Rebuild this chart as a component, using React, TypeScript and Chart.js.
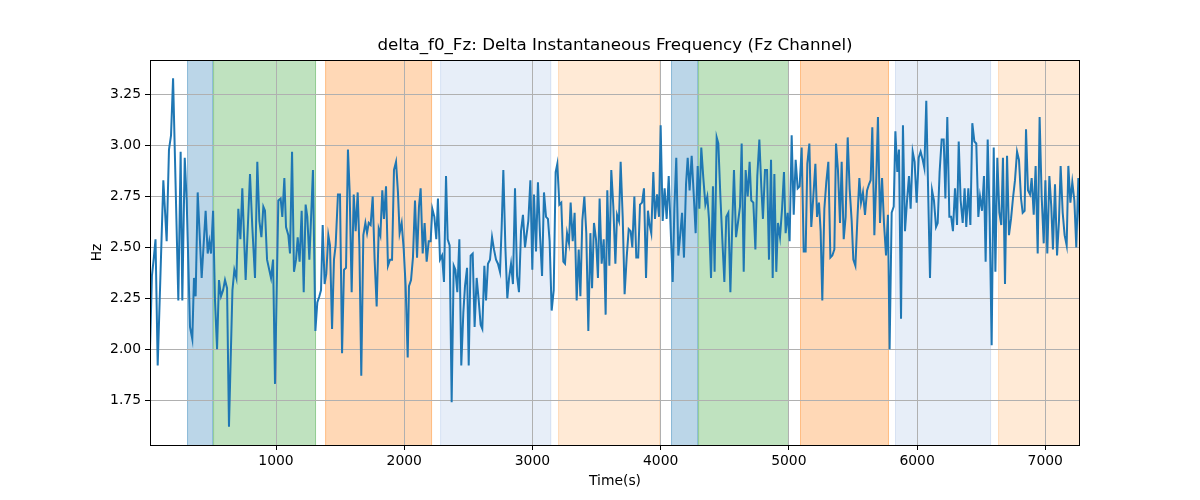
import React, { useEffect, useRef } from 'react';
import { Chart, registerables } from 'chart.js';

Chart.register(...registerables);

const titleText = 'delta_f0_Fz: Delta Instantaneous Frequency (Fz Channel)';

// time (s) of each sample
const times: number[] = [
  17, 32, 47, 60, 77, 121, 147, 165, 181, 197, 238, 256, 269, 288, 303, 329, 347, 360, 373, 389,
  420, 451, 467, 480, 493, 509, 524, 540, 555, 571, 587, 602, 618, 633, 660, 675, 691, 706, 722, 737,
  763, 797, 815, 836, 854, 870, 886, 901, 914, 930, 961, 977, 992, 1018, 1036, 1049, 1065, 1078, 1096, 1109,
  1125, 1140, 1156, 1169, 1184, 1200, 1216, 1231, 1244, 1260, 1275, 1288, 1307, 1322, 1338, 1351, 1364, 1379, 1392, 1408,
  1421, 1437, 1452, 1465, 1483, 1499, 1515, 1530, 1546, 1561, 1574, 1590, 1606, 1621, 1637, 1650, 1665, 1681, 1697, 1710,
  1723, 1738, 1754, 1769, 1785, 1801, 1814, 1829, 1842, 1858, 1873, 1889, 1905, 1920, 1936, 1951, 1964, 1980, 1996, 2011,
  2027, 2037, 2053, 2068, 2084, 2100, 2115, 2128, 2144, 2159, 2175, 2191, 2206, 2219, 2235, 2250, 2263, 2279, 2295, 2310,
  2326, 2339, 2354, 2370, 2386, 2399, 2414, 2430, 2445, 2461, 2474, 2490, 2503, 2518, 2534, 2549, 2565, 2581, 2596, 2609,
  2625, 2638, 2653, 2669, 2685, 2700, 2716, 2731, 2747, 2760, 2773, 2789, 2804, 2818, 2833, 2848, 2864, 2880, 2895, 2911,
  2926, 2942, 2968, 2984, 2999, 3012, 3028, 3043, 3059, 3075, 3090, 3106, 3121, 3134, 3150, 3166, 3181, 3194, 3210, 3225,
  3241, 3254, 3270, 3285, 3298, 3314, 3329, 3345, 3361, 3374, 3389, 3405, 3420, 3436, 3452, 3465, 3480, 3496, 3511, 3524,
  3540, 3556, 3571, 3584, 3600, 3615, 3631, 3647, 3660, 3675, 3688, 3704, 3719, 3735, 3751, 3766, 3779, 3795, 3810, 3825,
  3839, 3855, 3870, 3886, 3901, 3914, 3927, 3943, 3956, 3972, 3987, 4000, 4016, 4031, 4047, 4063, 4078, 4094, 4107, 4122,
  4138, 4154, 4167, 4182, 4198, 4211, 4226, 4242, 4258, 4273, 4289, 4302, 4317, 4333, 4349, 4364, 4377, 4393, 4408, 4421,
  4437, 4450, 4466, 4481, 4497, 4512, 4528, 4544, 4557, 4572, 4588, 4603, 4619, 4632, 4648, 4663, 4679, 4694, 4707, 4723,
  4739, 4754, 4770, 4785, 4798, 4814, 4830, 4845, 4861, 4874, 4887, 4902, 4915, 4931, 4947, 4962, 4975, 4991, 5006, 5022,
  5038, 5053, 5069, 5084, 5100, 5116, 5131, 5144, 5160, 5175, 5191, 5207, 5220, 5235, 5248, 5261, 5277, 5292, 5308, 5324,
  5339, 5355, 5368, 5383, 5399, 5412, 5428, 5443, 5459, 5474, 5490, 5503, 5519, 5534, 5550, 5563, 5578, 5594, 5610, 5625,
  5638, 5651, 5667, 5682, 5695, 5711, 5727, 5742, 5758, 5773, 5786, 5802, 5818, 5831, 5846, 5859, 5875, 5890, 5906, 5922,
  5937, 5950, 5966, 5981, 5997, 6013, 6028, 6044, 6057, 6072, 6088, 6101, 6117, 6132, 6148, 6161, 6176, 6192, 6208, 6221,
  6236, 6252, 6266, 6280, 6296, 6312, 6325, 6340, 6356, 6371, 6384, 6400, 6416, 6431, 6447, 6462, 6478, 6491, 6507, 6522,
  6535, 6551, 6566, 6582, 6598, 6611, 6626, 6642, 6657, 6670, 6686, 6702, 6717, 6733, 6748, 6764, 6780, 6795, 6811, 6824,
  6839, 6850, 6865, 6881, 6894, 6910, 6925, 6941, 6956, 6972, 6988, 7001, 7016, 7032, 7047, 7060, 7076, 7092, 7107, 7120,
  7136, 7151, 7167, 7180, 7196, 7211, 7227, 7242, 7258, 7271,
];

// delta f0 (Hz) at each sample
const deltaF0: number[] = [
  2.0, 2.36, 2.45, 2.54, 1.92, 2.83, 2.53, 2.98, 3.05, 3.33, 2.24, 2.97, 2.24, 2.94, 2.73, 2.11, 2.05, 2.35, 2.26, 2.77,
  2.35, 2.68, 2.47, 2.53, 2.47, 2.68, 2.24, 2.0, 2.34, 2.26, 2.29, 2.34, 2.3, 1.62, 2.29, 2.39, 2.35, 2.69, 2.54, 2.79,
  2.34, 2.86, 2.6, 2.35, 2.92, 2.63, 2.55, 2.7, 2.68, 2.44, 2.35, 2.44, 1.83, 2.73, 2.74, 2.65, 2.84, 2.6, 2.56, 2.47,
  2.97, 2.38, 2.44, 2.55, 2.43, 2.68, 2.28, 2.71, 2.65, 2.44, 2.67, 2.88, 2.09, 2.23, 2.26, 2.29, 2.61, 2.32, 2.37, 2.56,
  2.51, 2.1, 2.44, 2.51, 2.76, 2.76, 1.98, 2.39, 2.4, 2.98, 2.78, 2.28, 2.76, 2.58, 2.77, 2.51, 1.87, 2.56, 2.62, 2.57,
  2.62, 2.61, 2.75, 2.44, 2.21, 2.59, 2.56, 2.78, 2.64, 2.8, 2.41, 2.44, 2.44, 2.88, 2.92, 2.77, 2.57, 2.62, 2.49, 2.31,
  1.96, 2.31, 2.34, 2.45, 2.73, 2.45, 2.7, 2.79, 2.47, 2.62, 2.43, 2.53, 2.53, 2.69, 2.65, 2.54, 2.74, 2.44, 2.46, 2.33,
  2.85, 2.54, 2.51, 1.74, 2.41, 2.39, 2.28, 2.54, 1.92, 2.18, 2.31, 2.4, 1.92, 2.46, 2.47, 2.11, 2.35, 2.24, 2.12, 2.1,
  2.41, 2.24, 2.42, 2.44, 2.55, 2.49, 2.44, 2.42, 2.38, 2.6, 2.88, 2.5, 2.25, 2.35, 2.42, 2.32, 2.79, 2.36, 2.28, 2.58,
  2.66, 2.5, 2.63, 2.83, 2.39, 2.76, 2.48, 2.82, 2.56, 2.36, 2.77, 2.65, 2.64, 2.53, 2.19, 2.29, 2.87, 2.91, 2.71, 2.72,
  2.43, 2.42, 2.57, 2.52, 2.72, 2.53, 2.67, 2.24, 2.49, 2.26, 2.63, 2.75, 2.57, 2.09, 2.57, 2.3, 2.62, 2.54, 2.35, 2.74,
  2.42, 2.54, 2.17, 2.78, 2.41, 2.88, 2.7, 2.42, 2.66, 2.63, 2.92, 2.65, 2.27, 2.45, 2.59, 2.58, 2.5, 2.75, 2.45, 2.45,
  2.71, 2.72, 2.79, 2.35, 2.68, 2.61, 2.57, 2.87, 2.64, 2.76, 2.65, 3.1, 2.63, 2.79, 2.64, 2.85, 2.59, 2.33, 2.69, 2.94,
  2.46, 2.57, 2.67, 2.45, 2.81, 2.94, 2.78, 2.95, 2.76, 2.57, 2.9, 2.69, 2.99, 2.84, 2.71, 2.75, 2.64, 2.35, 2.8, 2.38,
  3.04, 3.01, 2.75, 2.54, 2.33, 2.65, 2.67, 2.28, 2.58, 2.88, 2.55, 2.62, 2.7, 3.01, 2.38, 2.88, 2.75, 2.92, 2.73, 2.72,
  2.49, 2.85, 3.03, 2.8, 2.64, 2.88, 2.88, 2.44, 2.93, 2.35, 2.86, 2.38, 2.62, 2.55, 2.69, 2.87, 2.57, 2.67, 2.53, 3.05,
  2.66, 2.93, 2.79, 2.8, 2.99, 2.48, 2.48, 2.91, 3.01, 2.6, 2.75, 2.91, 2.65, 2.72, 2.58, 2.24, 2.69, 2.82, 2.92, 2.45,
  2.46, 2.49, 3.01, 2.88, 2.62, 2.92, 2.54, 2.65, 3.04, 2.79, 2.63, 2.44, 2.41, 2.63, 2.84, 2.72, 2.77, 2.66, 2.78, 2.81,
  2.83, 3.09, 2.56, 2.84, 3.14, 2.62, 2.84, 2.62, 2.46, 2.66, 2.0, 2.67, 2.7, 3.07, 2.87, 2.98, 2.15, 3.1, 2.58, 2.73,
  2.85, 2.69, 2.97, 2.92, 2.72, 2.94, 2.97, 2.93, 2.89, 3.22, 2.73, 2.35, 2.78, 2.73, 2.6, 2.62, 2.87, 3.03, 3.03, 2.74,
  3.14, 2.65, 2.65, 2.58, 2.79, 2.61, 3.02, 2.73, 2.62, 2.79, 2.6, 2.79, 2.61, 3.11, 3.02, 3.01, 2.65, 2.75, 2.68, 2.85,
  2.43, 3.03, 2.65, 2.02, 2.99, 2.38, 2.94, 2.67, 2.61, 2.94, 2.32, 2.95, 2.56, 2.64, 2.74, 2.83, 2.97, 2.93, 2.74, 2.67,
  2.68, 3.08, 2.78, 2.76, 2.84, 2.66, 2.9, 2.47, 3.14, 2.75, 2.52, 2.83, 2.47, 2.85, 2.7, 2.49, 2.81, 2.46, 2.63, 2.9,
  2.67, 2.56, 2.51, 2.9, 2.72, 2.82, 2.73, 2.5, 2.84, 2.58,
];

// shaded segments: start, end, colour
const spanStarts: number[] = [306, 509, 1383, 2280, 3200, 4081, 4292, 5087, 5828, 6632];
const spanEnds: number[] = [509, 1312, 2217, 3146, 3995, 4292, 5001, 5781, 6577, 7290];
const spanColors: string[] = [
  'rgba(31,119,180,0.3)', 'rgba(44,160,44,0.3)', 'rgba(255,127,14,0.3)', 'rgba(174,199,232,0.3)', 'rgba(255,187,120,0.3)',
  'rgba(31,119,180,0.3)', 'rgba(44,160,44,0.3)', 'rgba(255,127,14,0.3)', 'rgba(174,199,232,0.3)', 'rgba(255,187,120,0.3)',
];

const xTicks: number[] = [1000, 2000, 3000, 4000, 5000, 6000, 7000];
const yTicks: number[] = [1.75, 2.0, 2.25, 2.5, 2.75, 3.0, 3.25];

const FONT = 'DejaVu Sans';

const spanPlugin = {
  id: 'spans',
  beforeDraw(chart: any) {
    const { ctx, chartArea, scales } = chart;
    ctx.save();
    ctx.beginPath();
    ctx.rect(chartArea.left, chartArea.top, chartArea.right - chartArea.left, chartArea.bottom - chartArea.top);
    ctx.clip();
    spanStarts.forEach((s, i) => {
      const x0 = scales.x.getPixelForValue(s);
      const x1 = scales.x.getPixelForValue(spanEnds[i]);
      ctx.fillStyle = spanColors[i];
      ctx.fillRect(x0, chartArea.top, x1 - x0, chartArea.bottom - chartArea.top);
      ctx.strokeStyle = spanColors[i];
      ctx.lineWidth = 1;
      ctx.strokeRect(x0 + 0.5, chartArea.top - 1, x1 - x0 - 1, chartArea.bottom - chartArea.top + 2);
    });
    ctx.restore();
  },
  afterDraw(chart: any) {
    const { ctx, chartArea } = chart;
    ctx.save();
    ctx.strokeStyle = '#000';
    ctx.lineWidth = 1;
    ctx.strokeRect(chartArea.left + 0.5, chartArea.top + 0.5, chartArea.right - chartArea.left - 1, chartArea.bottom - chartArea.top);
    ctx.fillStyle = '#000';
    ctx.textAlign = 'center';
    ctx.textBaseline = 'middle';
    const cx = (chartArea.left + chartArea.right) / 2;
    ctx.font = `16.7px "${FONT}"`;
    ctx.fillText(titleText, cx, 46);
    ctx.font = `13.9px "${FONT}"`;
    ctx.fillText('Time(s)', cx, 481);
    ctx.translate(97, (chartArea.top + chartArea.bottom) / 2);
    ctx.rotate(-Math.PI / 2);
    ctx.fillText('Hz', 0, 0);
    ctx.restore();
  },
};

const App: React.FC = () => {
  const canvasRef = useRef<HTMLCanvasElement | null>(null);
  const chartRef = useRef<Chart | null>(null);

  useEffect(() => {
    if (!canvasRef.current) return;
    if (chartRef.current) chartRef.current.destroy();

    chartRef.current = new Chart(canvasRef.current, {
      type: 'line',
      data: {
        datasets: [{
          data: times.map((t, i) => ({ x: t, y: deltaF0[i] })),
          borderColor: '#1f77b4',
          borderWidth: 2,
          pointRadius: 0,
          tension: 0,
          fill: false,
        }],
      },
      options: {
        animation: false,
        responsive: false,
        devicePixelRatio: 1,
        layout: { padding: { left: 0, top: 60, right: 120, bottom: 0 } },
        plugins: { legend: { display: false }, tooltip: { enabled: false }, title: { display: false } },
        scales: {
          x: {
            type: 'linear',
            min: 17,
            max: 7271,
            afterBuildTicks: (s: any) => { s.ticks = xTicks.map((v) => ({ value: v })); },
            afterFit: (s: any) => { s.height = 55; },
            ticks: { color: '#000', font: { family: FONT, size: 13.9 }, padding: 3, maxRotation: 0, callback: (v: any) => String(v) },
            grid: { color: '#b0b0b0', lineWidth: 1, tickColor: '#000', tickLength: 5 },
            border: { display: false },
          },
          y: {
            type: 'linear',
            min: 1.53,
            max: 3.42,
            afterBuildTicks: (s: any) => { s.ticks = yTicks.map((v) => ({ value: v })); },
            afterFit: (s: any) => { s.width = 150; },
            ticks: { color: '#000', font: { family: FONT, size: 13.9 }, padding: 4, callback: (v: any) => Number(v).toFixed(2) },
            grid: { color: '#b0b0b0', lineWidth: 1, tickColor: '#000', tickLength: 5 },
            border: { display: false },
          },
        },
      },
      plugins: [spanPlugin],
    });

    return () => {
      if (chartRef.current) {
        chartRef.current.destroy();
        chartRef.current = null;
      }
    };
  }, []);

  return (
    <div style={{ position: 'absolute', left: 0, top: 0, width: 1200, height: 500, background: '#fff' }}>
      <canvas ref={canvasRef} width={1200} height={500} />
    </div>
  );
};

export default App;
